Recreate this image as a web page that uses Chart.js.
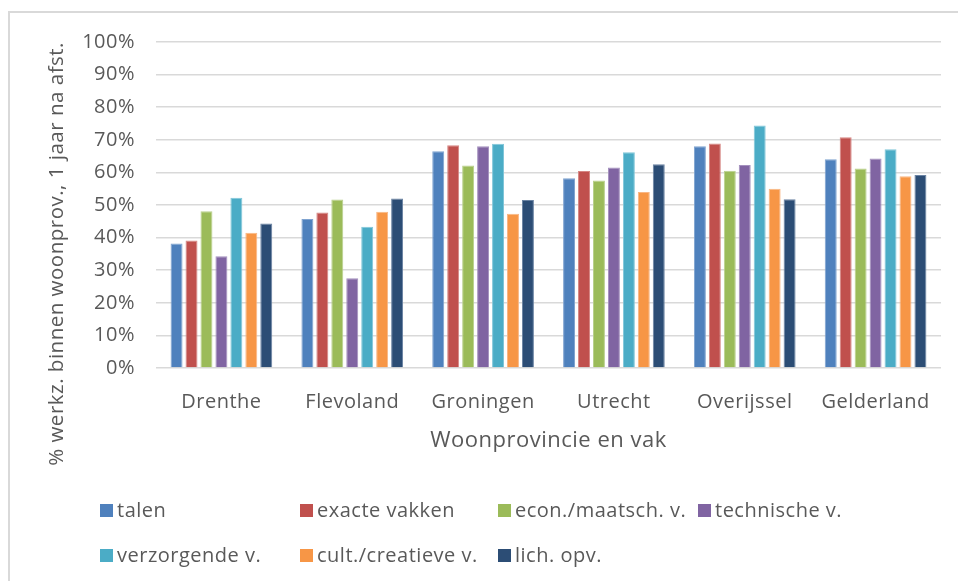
<!DOCTYPE html>
<html>
<head>
<meta charset="utf-8">
<script src="https://cdn.jsdelivr.net/npm/chart.js@4/dist/chart.umd.min.js"></script>
<style>
html,body{margin:0;padding:0;background:#fff;}
#wrap{position:relative;width:958px;height:581px;}
</style>
</head>
<body>
<div id="wrap"><canvas id="c" width="958" height="581"></canvas></div>
<script>
const categories = ['Drenthe', 'Flevoland', 'Groningen', 'Utrecht', 'Overijssel', 'Gelderland'];
const seriesNames = ['talen', 'exacte vakken', 'econ./maatsch. v.', 'technische v.', 'verzorgende v.', 'cult./creatieve v.', 'lich. opv.'];
const talen    = [38.2, 45.7, 66.5, 58.2, 68.0, 64.0];
const exacte   = [39.1, 47.7, 68.3, 60.4, 68.9, 70.8];
const econ     = [48.1, 51.7, 62.1, 57.5, 60.5, 61.2];
const techn    = [34.3, 27.5, 68.0, 61.5, 62.3, 64.3];
const verz     = [52.2, 43.3, 68.8, 66.2, 74.4, 67.1];
const cult     = [41.5, 47.9, 47.3, 54.0, 55.0, 58.8];
const lich     = [44.3, 52.0, 51.5, 62.5, 51.8, 59.2];
const yTickValues = [0, 10, 20, 30, 40, 50, 60, 70, 80, 90, 100];
const yTitle = '% werkz. binnen woonprov., 1 jaar na afst.';
const xTitle = 'Woonprovincie en vak';

const seriesValues = [talen, exacte, econ, techn, verz, cult, lich];
const colors = ['#4F81BD', '#C0504D', '#9BBB59', '#8064A2', '#4BACC6', '#F79646', '#2C4D75'];
const borders = ['#7FA3D0', '#D68683', '#B9D08C', '#A490BE', '#80C6D9', '#F9B684', '#6A83A3'];
const FONT = '"Open Sans", sans-serif';
const TXT = '#595959';

const frame = {
  id: 'frame',
  beforeDraw(chart) {
    const ctx = chart.ctx;
    ctx.save();
    ctx.fillStyle = '#fff';
    ctx.fillRect(0, 0, chart.width, chart.height);
    ctx.strokeStyle = '#d9d9d9';
    ctx.lineWidth = 2;
    ctx.beginPath();
    ctx.moveTo(9, chart.height);
    ctx.lineTo(9, 12);
    ctx.lineTo(chart.width, 12);
    ctx.stroke();
    ctx.restore();
    ctx.letterSpacing = '0.5px';
  }
};

const gridLegend = {
  id: 'gridLegend',
  afterDraw(chart) {
    const ctx = chart.ctx;
    const cols = [100, 300, 498, 698];
    const rows = [510, 555];
    ctx.save();
    ctx.letterSpacing = '0.5px';
    ctx.font = '20px ' + FONT;
    ctx.textBaseline = 'middle';
    ctx.textAlign = 'left';
    chart.data.datasets.forEach((ds, i) => {
      const x = cols[i % 4];
      const y = rows[Math.floor(i / 4)];
      ctx.fillStyle = ds.backgroundColor;
      ctx.fillRect(x, y - 6, 13, 13);
      ctx.fillStyle = TXT;
      ctx.fillText(ds.label, x + 17, y + 1);
    });
    ctx.restore();
  }
};

new Chart(document.getElementById('c'), {
  type: 'bar',
  data: {
    labels: categories,
    datasets: seriesNames.map((name, i) => ({
      label: name,
      data: seriesValues[i],
      backgroundColor: colors[i],
      borderColor: borders[i],
      borderWidth: 1,
      categoryPercentage: 0.8,
      barPercentage: 0.8
    }))
  },
  options: {
    responsive: false,
    animation: false,
    layout: { padding: { top: 42, right: 17, bottom: 123, left: 0 } },
    plugins: { legend: { display: false }, tooltip: { enabled: false } },
    scales: {
      x: {
        grid: { display: false },
        border: { display: false },
        ticks: { color: TXT, font: { family: FONT, size: 20 }, padding: 14 },
        title: { display: true, text: xTitle, color: TXT, font: { family: FONT, size: 22 }, padding: { top: 4 } },
        afterFit(scale) { scale.height = 90; }
      },
      y: {
        min: 0, max: 100,
        afterBuildTicks(scale) { scale.ticks = yTickValues.map(v => ({ value: v })); },
        grid: { color: '#d9d9d9', lineWidth: 1.5, drawTicks: false },
        border: { display: false },
        ticks: { color: TXT, font: { family: FONT, size: 20 }, padding: 21, callback: v => v + '%' },
        title: { display: true, text: yTitle, align: 'end', color: TXT, font: { family: FONT, size: 20.5 }, padding: { top: 45 } },
        afterFit(scale) { scale.width = 156; }
      }
    }
  },
  plugins: [frame, gridLegend]
});
</script>
</body>
</html>
